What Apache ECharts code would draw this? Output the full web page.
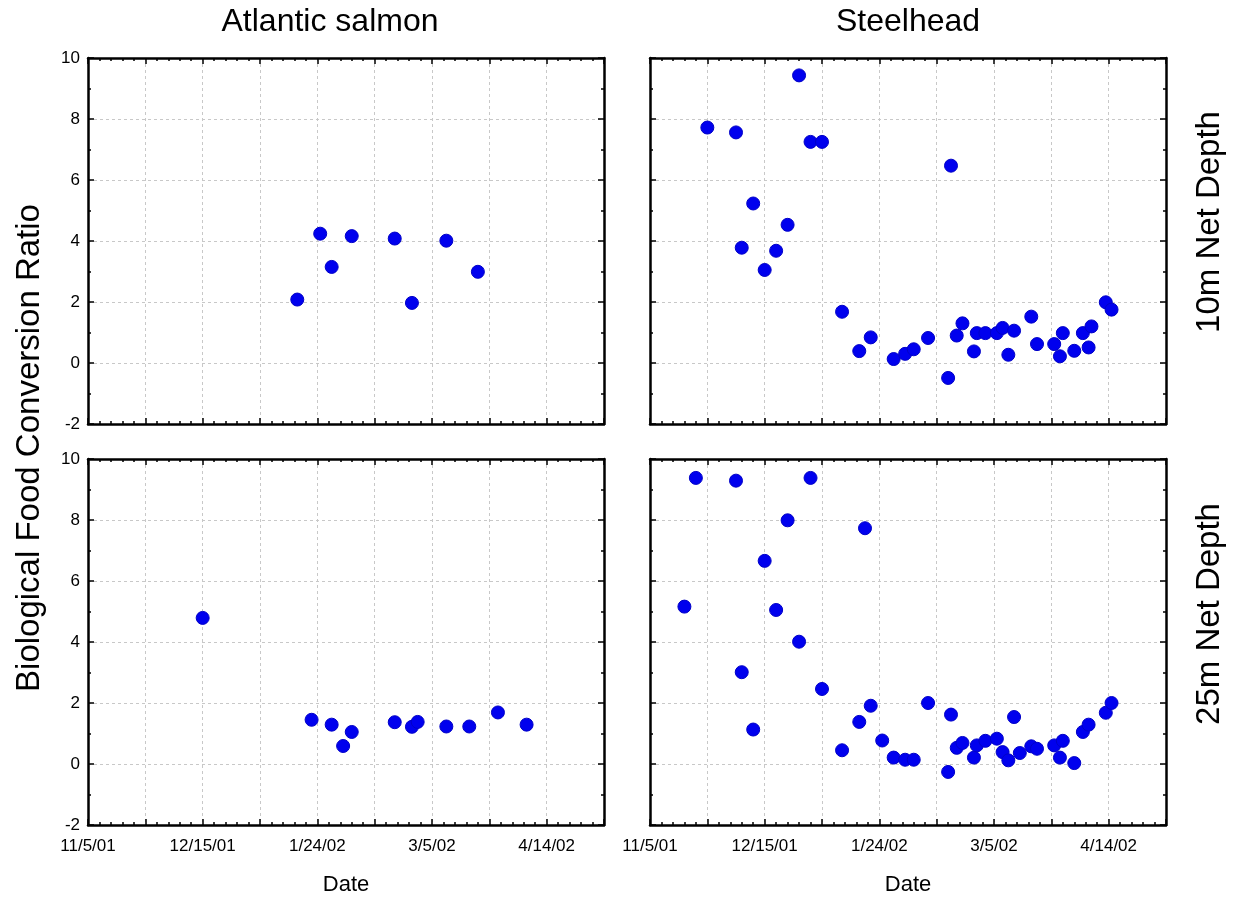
<!DOCTYPE html>
<html>
<head>
<meta charset="utf-8">
<script src="https://cdn.jsdelivr.net/npm/echarts@6/dist/echarts.min.js"></script>
<style>
html,body{margin:0;padding:0;background:#fff;}
#chart{width:1237px;height:903px;}
</style>
</head>
<body>
<div id="chart"></div>
<script>
// ---- Data (dates as M/D/YY, values = Biological Food Conversion Ratio) ----
const salmon10Dates = ['1/17/02','1/25/02','1/29/02','2/5/02','2/20/02','2/26/02','3/10/02','3/21/02'];
const salmon10Values = [2.08, 4.24, 3.15, 4.16, 4.08, 1.97, 4.01, 2.99];

const salmon25Dates = ['12/15/01','1/22/02','1/29/02','2/2/02','2/5/02','2/20/02','2/26/02','2/28/02','3/10/02','3/18/02','3/28/02','4/7/02'];
const salmon25Values = [4.79, 1.45, 1.29, 0.59, 1.05, 1.37, 1.22, 1.38, 1.23, 1.23, 1.69, 1.29];

const steel10Dates = ['11/25/01','12/5/01','12/7/01','12/11/01','12/15/01','12/19/01','12/23/01','12/27/01','12/31/01','1/4/02',
  '1/11/02','1/17/02','1/21/02','1/29/02','2/2/02','2/5/02','2/10/02','2/17/02','2/18/02','2/20/02',
  '2/22/02','2/26/02','2/27/02','3/2/02','3/6/02','3/8/02','3/10/02','3/12/02','3/18/02','3/20/02',
  '3/26/02','3/28/02','3/29/02','4/2/02','4/5/02','4/7/02','4/8/02','4/13/02','4/15/02'];
const steel10Values = [7.72, 7.56, 3.78, 5.23, 3.05, 3.68, 4.53, 9.43, 7.25, 7.25,
  1.68, 0.39, 0.84, 0.13, 0.30, 0.45, 0.82, -0.49, 6.47, 0.90,
  1.30, 0.38, 0.98, 0.98, 0.98, 1.15, 0.27, 1.06, 1.52, 0.62,
  0.62, 0.22, 0.98, 0.40, 0.98, 0.51, 1.20, 1.99, 1.75];

const steel25Dates = ['11/17/01','11/21/01','12/5/01','12/7/01','12/11/01','12/15/01','12/19/01','12/23/01','12/27/01','12/31/01',
  '1/4/02','1/11/02','1/17/02','1/19/02','1/21/02','1/25/02','1/29/02','2/2/02','2/5/02','2/10/02',
  '2/17/02','2/18/02','2/20/02','2/22/02','2/26/02','2/27/02','3/2/02','3/6/02','3/8/02','3/10/02',
  '3/12/02','3/14/02','3/18/02','3/20/02','3/26/02','3/28/02','3/29/02','4/2/02','4/5/02','4/7/02',
  '4/13/02','4/15/02'];
const steel25Values = [5.16, 9.38, 9.29, 3.01, 1.13, 6.66, 5.05, 7.99, 4.01, 9.38,
  2.46, 0.45, 1.38, 7.73, 1.91, 0.77, 0.21, 0.14, 0.14, 2.00,
  -0.26, 1.62, 0.53, 0.69, 0.21, 0.61, 0.76, 0.83, 0.39, 0.12,
  1.54, 0.36, 0.58, 0.50, 0.61, 0.21, 0.76, 0.03, 1.05, 1.29,
  1.68, 2.00];

const columnTitles = ['Atlantic salmon', 'Steelhead'];
const rowTitles = ['10m Net Depth', '25m Net Depth'];
const yAxisTitle = 'Biological Food Conversion Ratio';
const xAxisTitle = 'Date';

// ---- helpers ----
const DAY = 86400000;
const ORIGIN = Date.UTC(2001, 10, 5); // 11/5/01 = day 0 of the axis
function toDay(s) {
  const p = s.split('/');
  return Math.round((Date.UTC(2000 + (+p[2]), +p[0] - 1, +p[1]) - ORIGIN) / DAY);
}
function dayLabel(d) {
  if (d % 40 !== 0) return '';
  const dt = new Date(ORIGIN + d * DAY);
  const yy = String(dt.getUTCFullYear() % 100).padStart(2, '0');
  return (dt.getUTCMonth() + 1) + '/' + dt.getUTCDate() + '/' + yy;
}
function pairs(dates, vals) { return dates.map((d, i) => [toDay(d), vals[i]]); }

const FONT = "'Liberation Sans', Arial, Helvetica, sans-serif";
const grids = [
  {left: 88, top: 58, width: 516, height: 366},
  {left: 650, top: 58, width: 516, height: 366},
  {left: 88, top: 459, width: 516, height: 366},
  {left: 650, top: 459, width: 516, height: 366}
];
const lineStyle = {color: '#000', width: 2.5};
const tick = {show: true, inside: true, length: 6, lineStyle: {color: '#000', width: 1.5}};
const minor = (n) => ({show: true, splitNumber: n, length: 3, lineStyle: {color: '#000', width: 1.5}});
const split = {show: true, lineStyle: {color: '#c8c8c8', width: 1, type: [3, 3]}};

const xAxes = [], yAxes = [];
grids.forEach((g, i) => {
  const bottomRow = i >= 2, leftCol = i % 2 === 0;
  const baseX = {type: 'value', gridIndex: i, min: 0, max: 180, interval: 20,
    axisLine: {show: true, onZero: false, lineStyle}, axisTick: tick, minorTick: minor(5)};
  xAxes.push(Object.assign({}, baseX, {position: 'bottom', splitLine: split,
    axisLabel: {show: bottomRow, formatter: dayLabel, color: '#000', fontSize: 17, fontFamily: FONT, margin: 13}}));
  xAxes.push(Object.assign({}, baseX, {position: 'top', splitLine: {show: false}, axisLabel: {show: false}}));
  const baseY = {type: 'value', gridIndex: i, min: -2, max: 10, interval: 2,
    axisLine: {show: true, onZero: false, lineStyle}, axisTick: tick, minorTick: minor(2)};
  yAxes.push(Object.assign({}, baseY, {position: 'left', splitLine: split,
    axisLabel: {show: leftCol, color: '#000', fontSize: 17, fontFamily: FONT, margin: 8}}));
  yAxes.push(Object.assign({}, baseY, {position: 'right', splitLine: {show: false}, axisLabel: {show: false}}));
});

const seriesData = [
  pairs(salmon10Dates, salmon10Values),
  pairs(steel10Dates, steel10Values),
  pairs(salmon25Dates, salmon25Values),
  pairs(steel25Dates, steel25Values)
];
const series = seriesData.map((d, i) => ({
  type: 'scatter', xAxisIndex: 2 * i, yAxisIndex: 2 * i, data: d,
  symbol: 'circle', symbolSize: 13,
  itemStyle: {color: '#0000ee', borderColor: '#0000c8', borderWidth: 1, opacity: 1},
  emphasis: {disabled: true}, z: 5
}));

const txt = (text, x, y, size, rot) => ({
  type: 'text', x, y, rotation: rot || 0, silent: true,
  style: {text, fill: '#000', font: size + 'px ' + FONT, align: 'center', verticalAlign: 'middle'}
});

const chart = echarts.init(document.getElementById('chart'), null, {renderer: 'canvas'});
chart.setOption({
  animation: false,
  backgroundColor: '#fff',
  grid: grids.map(g => Object.assign({containLabel: false}, g)),
  xAxis: xAxes,
  yAxis: yAxes,
  series,
  graphic: [
    txt(columnTitles[0], 330, 22, 32),
    txt(columnTitles[1], 908, 22, 32),
    txt(rowTitles[0], 1210, 222, 33, Math.PI / 2),
    txt(rowTitles[1], 1210, 614, 33, Math.PI / 2),
    txt(yAxisTitle, 30, 448, 33, Math.PI / 2),
    txt(xAxisTitle, 346, 885, 22),
    txt(xAxisTitle, 908, 885, 22)
  ]
});
</script>
</body>
</html>
